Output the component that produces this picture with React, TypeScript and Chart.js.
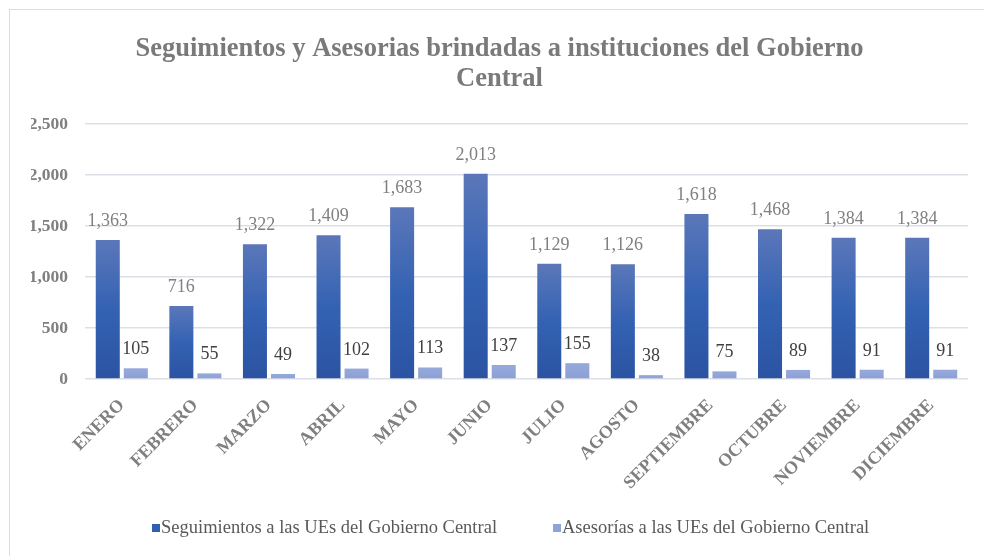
import React, { useEffect, useRef } from 'react';
import { Chart, registerables } from 'chart.js';

Chart.register(...registerables);

const MONTHS = ['ENERO', 'FEBRERO', 'MARZO', 'ABRIL', 'MAYO', 'JUNIO', 'JULIO', 'AGOSTO', 'SEPTIEMBRE', 'OCTUBRE', 'NOVIEMBRE', 'DICIEMBRE'];
const SEGUIMIENTOS = [1363, 716, 1322, 1409, 1683, 2013, 1129, 1126, 1618, 1468, 1384, 1384];
const ASESORIAS = [105, 55, 49, 102, 113, 137, 155, 38, 75, 89, 91, 91];
const Y_MAX = 2500;
const Y_STEP = 500;
const SERIES_NAMES = ['Seguimientos a las UEs del Gobierno Central', 'Asesorías a las UEs del Gobierno Central'];
const TITLE_LINES = ['Seguimientos y Asesorias brindadas a instituciones del Gobierno', 'Central'];

const SERIF = "'Liberation Serif', 'Times New Roman', serif";
const DARK_STOPS = ['#5b77b9', '#3462b3', '#2b53a2'];
const LIGHT_STOPS = ['#97a9dc', '#91a5d9', '#8a9ed3'];
const LEGEND_COLORS = ['#3160b0', '#8fa3d8'];
const LABEL_COLORS = ['#808080', '#404040'];

const fmt = (v: number) => v.toLocaleString('en-US');

function gradientFill(stops: string[]) {
  return (ctx: any) => {
    const chart = ctx.chart;
    const y = chart.scales && chart.scales.y;
    if (!chart.chartArea || !y || ctx.type !== 'data') return stops[1];
    const v = ctx.raw as number;
    const y0 = y.getPixelForValue(0);
    const y1 = y.getPixelForValue(v);
    if (!isFinite(y0) || !isFinite(y1) || Math.abs(y0 - y1) < 1) return stops[1];
    const g = chart.ctx.createLinearGradient(0, y1, 0, y0);
    g.addColorStop(0, stops[0]);
    g.addColorStop(0.5, stops[1]);
    g.addColorStop(1, stops[2]);
    return g;
  };
}

const valueLabels = {
  id: 'valueLabels',
  afterDatasetsDraw(chart: any) {
    const ctx = chart.ctx;
    ctx.save();
    ctx.font = `18px ${SERIF}`;
    ctx.textAlign = 'center';
    ctx.textBaseline = 'alphabetic';
    chart.data.datasets.forEach((ds: any, di: number) => {
      const meta = chart.getDatasetMeta(di);
      ctx.fillStyle = LABEL_COLORS[di];
      meta.data.forEach((bar: any, i: number) => {
        ctx.fillText(fmt(ds.data[i]), bar.x, bar.y - 14);
      });
    });
    ctx.restore();
  },
};

function BarChart() {
  const ref = useRef<HTMLCanvasElement | null>(null);
  useEffect(() => {
    if (!ref.current) return;
    const chart = new Chart(ref.current, {
      type: 'bar',
      data: {
        labels: MONTHS,
        datasets: [
          {
            label: SERIES_NAMES[0],
            data: SEGUIMIENTOS,
            backgroundColor: gradientFill(DARK_STOPS),
            categoryPercentage: 0.762,
            barPercentage: 0.857,
          },
          {
            label: SERIES_NAMES[1],
            data: ASESORIAS,
            backgroundColor: gradientFill(LIGHT_STOPS),
            categoryPercentage: 0.762,
            barPercentage: 0.857,
          },
        ],
      },
      options: {
        responsive: false,
        animation: false,
        devicePixelRatio: 1,
        layout: { padding: { top: 0, left: 31, right: 30, bottom: 0 } },
        plugins: {
          legend: { display: false },
          tooltip: { enabled: false },
          title: {
            display: true,
            text: TITLE_LINES,
            color: '#7a7a7a',
            font: { family: SERIF, size: 26.5, weight: 'bold', lineHeight: 30 / 26.5 },
            padding: { top: 34, bottom: 30 },
          },
        },
        scales: {
          x: {
            grid: { display: false },
            border: { display: false },
            ticks: {
              color: '#7f7f7f',
              font: { family: SERIF, size: 18, weight: 'bold' },
              minRotation: 45,
              maxRotation: 45,
              padding: 8,
              autoSkip: false,
            },
            afterFit: (s: any) => { s.height = 177; },
          },
          y: {
            min: 0,
            max: Y_MAX,
            grid: { color: '#dcdfe7', lineWidth: 1.5, drawTicks: false },
            border: { display: false },
            ticks: {
              stepSize: Y_STEP,
              padding: 17,
              color: '#7f7f7f',
              font: { family: SERIF, size: 17.5, weight: 'bold' },
              callback: (v: any) => fmt(Number(v)),
            },
            afterFit: (s: any) => { s.width = 54; },
          },
        },
      },
      plugins: [valueLabels],
    });
    return () => chart.destroy();
  }, []);
  return <canvas ref={ref} width={998} height={556} style={{ position: 'absolute', left: 0, top: 0, width: 998, height: 556 }} />;
}

export default function App() {
  return (
    <div style={{ position: 'fixed', left: 0, top: 0, width: 984, height: 556, overflow: 'hidden', background: '#fff' }}>
      <div style={{ position: 'absolute', left: 9, top: 9, width: 1100, height: 700, borderLeft: '1px solid #d9dde6', borderTop: '1px solid #d9dde6' }} />
      <BarChart />
      <div style={{ position: 'absolute', left: 0, top: 517, width: 984, height: 24, fontFamily: SERIF, fontSize: 18.5, color: '#595959', whiteSpace: 'nowrap' }}>
        {SERIES_NAMES.map((name, i) => (
          <span key={name} style={{ position: 'absolute', left: i === 0 ? 152 : 553, top: 0, display: 'flex', alignItems: 'center' }}>
            <span style={{ display: 'inline-block', width: 8, height: 8, background: LEGEND_COLORS[i], marginRight: 1 }} />
            <span>{name}</span>
          </span>
        ))}
      </div>
    </div>
  );
}
